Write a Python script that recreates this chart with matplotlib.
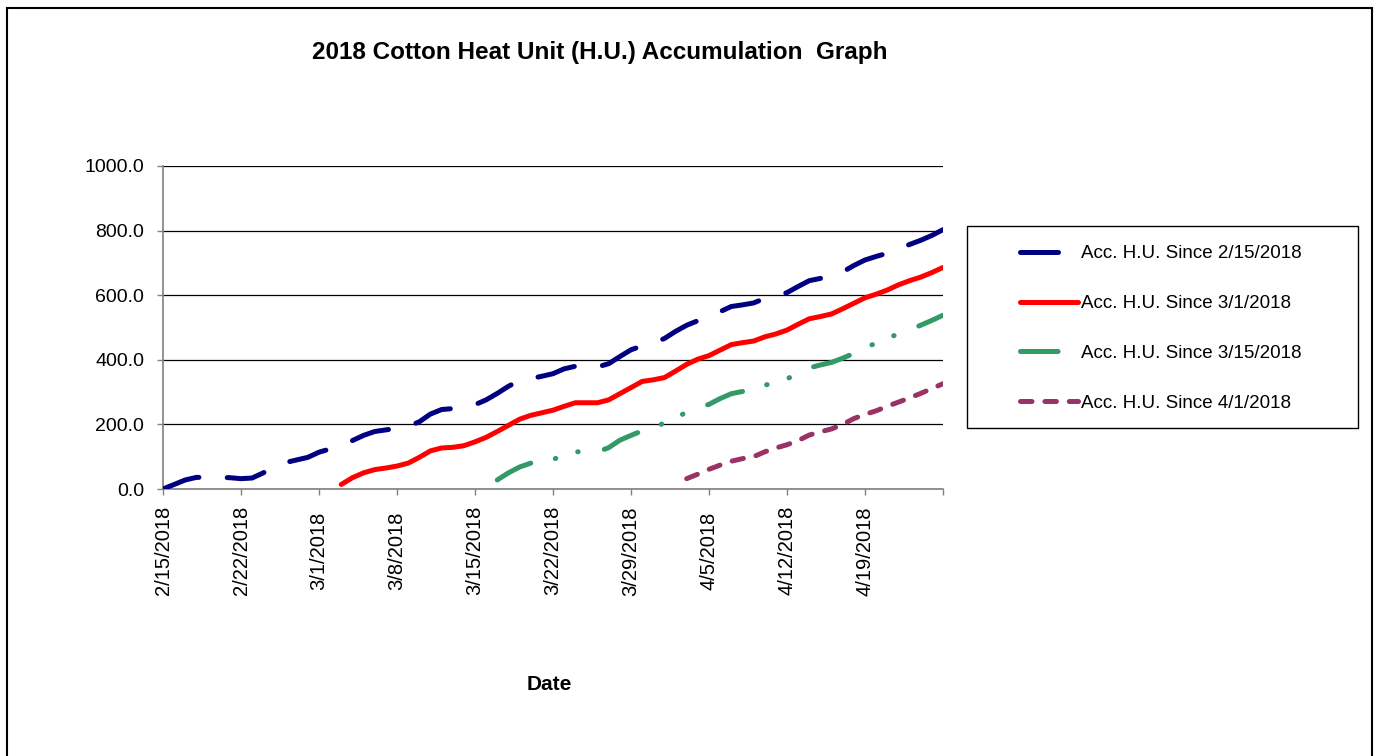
import numpy as np
import pandas as pd
import matplotlib
matplotlib.use("Agg")
import matplotlib.pyplot as plt
from matplotlib.patches import Rectangle

plt.rcParams['font.family'] = ['Liberation Sans', 'DejaVu Sans']
plt.rcParams['lines.scale_dashes'] = False

# ---------------- data ----------------
axis_start = "2018-02-15"
axis_end = "2018-04-26"

blue_start = "2018-02-15"
blue_vals = [0, 14, 28, 36, 36, 36, 35, 32, 34, 50,
             71, 82, 90, 98, 114, 124, 135, 150, 166, 178,
             183, 188, 194, 208, 232, 246, 249, 254, 261, 276,
             296, 318, 336, 342, 349, 357, 372, 380, 380, 378,
             388, 410, 431, 443, 452, 466, 488, 507, 521, 537,
             549, 565, 570, 576, 590, 598, 608, 627, 645, 652,
             660, 672, 692, 709, 720, 730, 744, 757, 770, 785,
             803]

red_start = "2018-03-03"
red_vals = [14, 35, 50, 60, 65, 71, 80, 98, 118,
            127, 129, 134, 146, 160, 178, 197, 216, 228, 236,
            244, 256, 267, 267, 267, 276, 295, 314, 333, 338,
            345, 365, 386, 402, 413, 430, 447, 453, 458, 471,
            480, 492, 510, 527, 534, 542, 558, 575, 592, 603,
            616, 632, 645, 656, 670, 686]

green_start = "2018-03-17"
green_vals = [28, 50, 68, 80, 86, 92, 103, 115, 116,
              115, 128, 151, 166, 180, 189, 205, 220, 238, 252,
              262, 280, 295, 302, 311, 321, 331, 341, 358, 375,
              384, 392, 405, 420, 437, 452, 467, 480, 493, 507,
              522, 538]

purple_start = "2018-04-03"
purple_vals = [32, 46, 61, 74, 86, 94, 100, 115, 127,
               137, 150, 167, 177, 186, 200, 218, 231, 242, 256,
               269, 282, 296, 311, 326]

series_labels = ["Acc. H.U. Since 2/15/2018", "Acc. H.U. Since 3/1/2018",
                 "Acc. H.U. Since 3/15/2018", "Acc. H.U. Since 4/1/2018"]

xtick_dates = ["2018-02-15", "2018-02-22", "2018-03-01", "2018-03-08",
               "2018-03-15", "2018-03-22", "2018-03-29", "2018-04-05",
               "2018-04-12", "2018-04-19", "2018-04-26"]
xtick_labels = ["2/15/2018", "2/22/2018", "3/1/2018", "3/8/2018",
                "3/15/2018", "3/22/2018", "3/29/2018", "4/5/2018",
                "4/12/2018", "4/19/2018", ""]
yticks = [0, 200, 400, 600, 800, 1000]

title = "2018 Cotton Heat Unit (H.U.) Accumulation  Graph"
xlabel = "Date"

# ---------------- figure ----------------
W, H = 1376, 756
fig = plt.figure(figsize=(W / 100, H / 100), dpi=100)
ax = fig.add_axes([163 / W, 1 - 489 / H, 780 / W, 323 / H])

def dr(start, vals):
    return pd.date_range(start, periods=len(vals), freq="D")

px = 0.72  # points per pixel
lw = 5 * px
styles = [
    dict(color="#000080", dashes=(38 * px, 28.3 * px)),
    dict(color="#FF0000"),
    dict(color="#339966", dashes=(37.6 * px, 25 * px, 0.5 * px, 23 * px, 0.5 * px, 26.5 * px)),
    dict(color="#993366", dashes=(11.5 * px, 12.9 * px)),
]
data = [(blue_start, blue_vals), (red_start, red_vals),
        (green_start, green_vals), (purple_start, purple_vals)]

handles = []
for (s, v), st, lab in zip(data, styles, series_labels):
    kw = dict(lw=lw, solid_capstyle="round", dash_capstyle="round",
              solid_joinstyle="round", dash_joinstyle="round", zorder=3)
    kw.update(st)
    ln, = ax.plot(dr(s, v), v, label=lab, **kw)
    handles.append(ln)

ax.set_xlim(pd.Timestamp(axis_start), pd.Timestamp(axis_end))
ax.set_ylim(0, 1000)
ax.set_xticks([pd.Timestamp(d) for d in xtick_dates])
ax.set_xticklabels(xtick_labels, rotation=90, fontsize=14.5)
for t in ax.get_xticklabels():
    t.set_va("center")
ax.set_yticks(yticks)
ax.set_yticklabels([f"{y:.1f}" for y in yticks], fontsize=14)
ax.tick_params(axis="both", direction="out", length=4.5, width=1, color="#808080")
ax.tick_params(axis="y", pad=9)
ax.tick_params(axis="x", pad=40)
ax.minorticks_off()

ax.yaxis.grid(True, color="black", lw=0.9, zorder=1)
ax.set_axisbelow(True)
for sp in ["top", "right"]:
    ax.spines[sp].set_visible(False)
for sp in ["left", "bottom"]:
    ax.spines[sp].set_color("#808080")
    ax.spines[sp].set_linewidth(1.2)

fig.text(599.5 / W, 1 - 52 / H, title, ha="center", va="center",
         fontsize=17.5, fontweight="bold")
fig.text(549.5 / W, 1 - 685 / H, xlabel, ha="center", va="center",
         fontsize=15, fontweight="bold")

fs = 13.5
fpx = fs / 0.72
leg = fig.legend(handles, series_labels, loc="upper left",
                 bbox_to_anchor=(1020 / W, 1 - 245 / H), frameon=False,
                 borderpad=0, borderaxespad=0, fontsize=fs,
                 handlelength=58 / fpx, handletextpad=3 / fpx,
                 labelspacing=1.75)

fig.add_artist(Rectangle((967 / W, 1 - 428 / H), 391 / W, 202 / H,
                         transform=fig.transFigure, fill=False,
                         ec="black", lw=1.0))
fig.add_artist(Rectangle((7 / W, -0.02), 1365 / W, 1.02 - 8 / H,
                         transform=fig.transFigure, fill=False,
                         ec="black", lw=1.5))

fig.savefig("out.png", dpi=100)
